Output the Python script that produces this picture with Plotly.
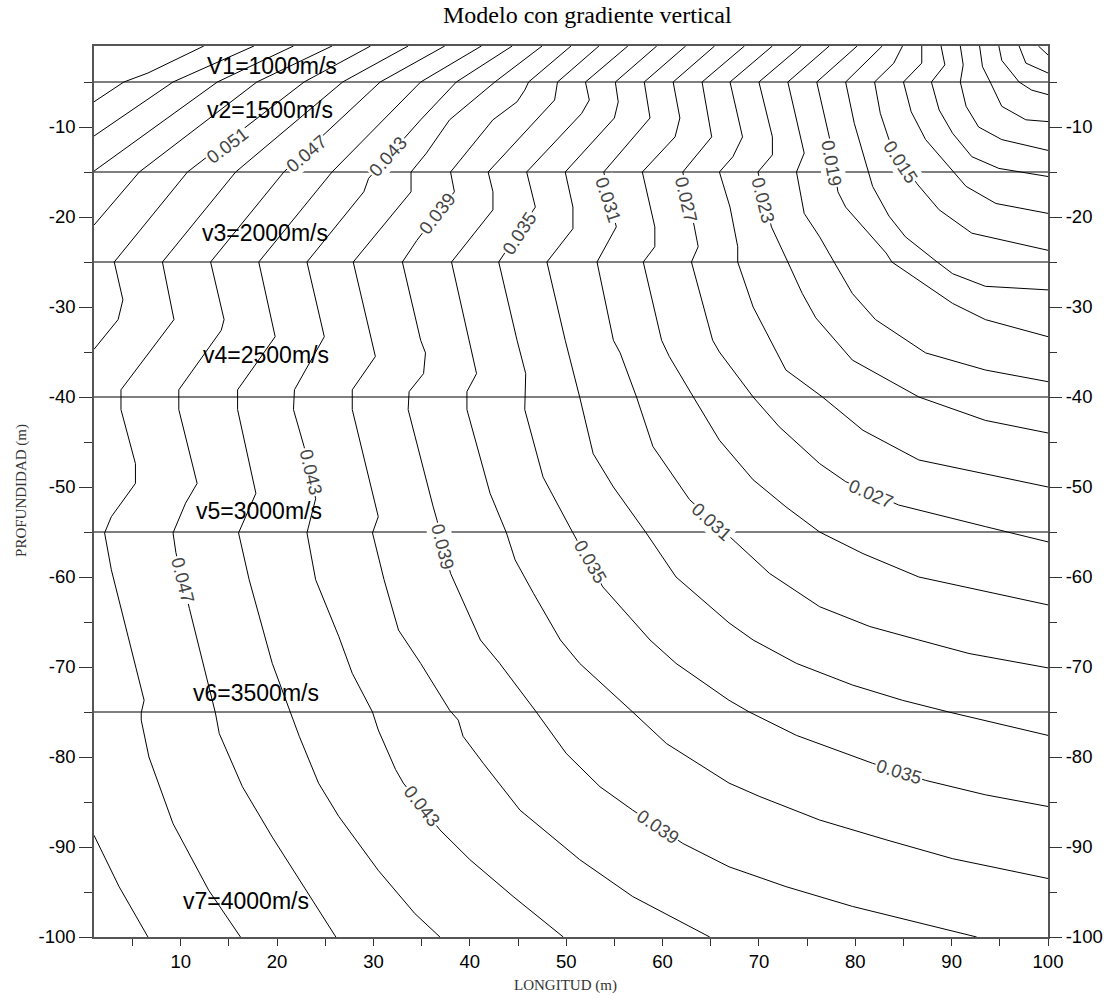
import plotly.graph_objects as go

# ---------------- data ----------------
X_RANGE = [1, 100]
Y_RANGE = [-100, -1]

X_TICKS = [10, 20, 30, 40, 50, 60, 70, 80, 90, 100]
X_TICK_LABELS = ["10", "20", "30", "40", "50", "60", "70", "80", "90", "100"]
X_MINOR_TICKS = [5, 15, 25, 35, 45, 55, 65, 75, 85, 95]
Y_TICKS = [-10, -20, -30, -40, -50, -60, -70, -80, -90, -100]
Y_TICK_LABELS = ["-10", "-20", "-30", "-40", "-50", "-60", "-70", "-80", "-90", "-100"]
Y_MINOR_TICKS = [-5, -15, -25, -35, -45, -55, -65, -75, -85, -95]

# layer interfaces (depth, m)
BOUNDARY_DEPTHS = [-5, -15, -25, -40, -55, -75]

# layer velocity captions
VELOCITY_LABELS = ["V1=1000m/s", "v2=1500m/s", "v3=2000m/s", "v4=2500m/s",
                   "v5=3000m/s", "v6=3500m/s", "v7=4000m/s"]
VELOCITY_LABEL_X = [19.5, 19.3, 18.7, 18.8, 18.1, 17.8, 16.8]
VELOCITY_LABEL_Y = [-3.2, -8.1, -21.8, -35.3, -52.7, -72.9, -96.0]

# travel-time isolines (s); each traced as (x, depth) vertices
CONTOUR_LEVELS = [0.001, 0.003, 0.005, 0.007, 0.009, 0.011, 0.013, 0.015,
                  0.017, 0.019, 0.021, 0.023, 0.025, 0.027, 0.029, 0.031,
                  0.033, 0.035, 0.037, 0.039, 0.041, 0.043, 0.045, 0.047,
                  0.049, 0.051, 0.051, 0.053, 0.055, 0.057, 0.059]

CONTOUR_X = [
    [99.0, 100],
    [97.0, 97.7, 100],
    [94.9, 95.2, 97.0, 98.3, 100],
    [92.9, 93.2, 94.0, 95.2, 97.7, 100],
    [90.9, 91.2, 90.9, 91.5, 92.8, 95.2, 100],
    [88.9, 89.3, 87.9, 88.7, 90.1, 92.1, 94.9, 100],
    [86.9, 86.9, 85.0, 85.8, 87.3, 89.7, 91.5, 94.6, 100],
    [84.9, 84.0, 82.0, 82.6, 83.5, 86.4, 88.7, 92.1, 100],
    [82.8, 79.0, 79.9, 81.1, 81.8, 83.5, 85.2, 88.5, 90.1, 93.5, 100],
    [80.2, 76.0, 77.3, 78.2, 79.0, 80.8, 83.2, 83.8, 86.6, 90.1, 93.5, 100],
    [77.3, 73.0, 74.7, 73.9, 74.7, 76.3, 77.8, 79.7, 82.1, 87.3, 93.5, 100],
    [74.4, 70.0, 71.4, 71.4, 69.9, 71.3, 73.0, 74.5, 75.9, 79.7, 86.6, 93.5, 100],
    [71.4, 67.0, 68.3, 67.3, 65.9, 67.0, 67.8, 67.8, 69.4, 72.8, 76.6, 80.8, 86.6, 100],
    [68.5, 64.1, 65.1, 62.1, 63.3, 63.7, 63.0, 65.2, 65.9, 69.4, 72.1, 76.3, 79.0,
     84.5, 93.5, 100],
    [65.4, 61.1, 61.8, 61.3, 57.9, 59.2, 59.2, 58.0, 59.9, 60.7, 63.2, 65.9, 69.4,
     72.8, 76.3, 80.8, 86.6, 100],
    [62.4, 58.1, 58.7, 53.9, 55.2, 53.2, 54.9, 55.6, 57.3, 59.0, 62.8, 67.3, 71.1,
     76.3, 81.5, 86.6, 91.8, 100],
    [59.4, 55.1, 55.4, 55.0, 49.9, 50.7, 50.7, 48.0, 49.9, 51.4, 52.8, 54.9, 58.3,
     61.4, 66.9, 69.4, 73.9, 79.7, 84.9, 89.7, 100],
    [56.4, 52.0, 52.4, 51.6, 45.9, 46.8, 43.0, 44.9, 45.8, 45.7, 47.6, 50.7, 53.8,
     58.7, 61.4, 66.9, 69.0, 73.9, 81.8, 87.3, 93.5, 100],
    [53.4, 49.1, 48.8, 41.9, 42.4, 42.4, 38.1, 39.9, 40.7, 39.7, 39.7, 42.1, 43.8,
     44.7, 46.6, 49.4, 51.4, 56.9, 60.4, 66.9, 70.1, 76.3, 83.2, 90.1, 100],
    [50.5, 46.1, 45.7, 44.9, 42.4, 40.4, 38.0, 38.4, 34.5, 33.0, 34.9, 35.4, 35.2,
     33.7, 33.6, 36.2, 36.6, 38.0, 41.1, 43.1, 46.9, 50.0, 53.5, 56.9, 62.1, 66.9,
     72.8, 79.7, 92.6],
    [47.5, 42.6, 37.9, 35.5, 33.9, 33.9, 27.9, 30.2, 27.8, 27.8, 30.5, 29.9, 31.1,
     32.6, 34.9, 37.9, 38.8, 39.3, 41.4, 45.2, 51.4, 56.9, 64.9],
    [44.4, 38.6, 34.9, 33.5, 29.5, 29.0, 23.1, 24.9, 21.8, 21.7, 22.8, 24.0, 23.1,
     24.0, 26.4, 27.8, 29.9, 30.5, 32.3, 33.1, 36.9, 40.0, 44.5, 49.7],
    [41.2, 34.9, 25.7, 18.1, 19.8, 15.9, 15.9, 17.8, 16.0, 17.1, 19.5, 21.4, 22.3,
     24.3, 26.4, 30.5, 34.3, 36.9],
    [37.4, 30.7, 20.7, 13.1, 14.5, 14.2, 9.8, 9.8, 11.7, 10.5, 9.2, 9.5, 10.9,
     13.6, 14.0, 16.4, 19.5, 23.0, 26.1],
    [33.6, 26.8, 15.7, 8.1, 9.3, 3.8, 3.8, 5.3, 5.3, 2.8, 2.1, 2.8, 6.2, 5.9, 5.9,
     6.7, 9.2, 12.9, 16.2],
    [29.7, 22.8, 10.7, 3.1, 4.0, 3.5, 1.0],
    [1.0, 3.6, 6.6],
    [25.7, 17.9, 5.7, 1.0],
    [21.7, 13.8, 1.0],
    [17.6, 9.2, 1.0],
    [12.4, 6.6, 4.1, 1.0],
]

CONTOUR_Y = [
    [-1, -2.0],
    [-1, -2.9, -4.0],
    [-1, -2.6, -5, -5.9, -6.4],
    [-1, -3.3, -5, -7.7, -9.2, -9.4],
    [-1, -3.1, -5, -7.7, -10.0, -11.4, -12.6],
    [-1, -3.1, -5, -8.1, -10.7, -13.3, -14.6, -15.5],
    [-1, -2.9, -5, -8.3, -11.4, -14.4, -16.6, -18.5, -19.6],
    [-1, -2.9, -5, -8.5, -11.4, -16.3, -19.2, -21.8, -23.7],
    [-1, -5, -9.6, -14.0, -16.6, -19.9, -22.2, -25, -26.3, -27.7, -28.1],
    [-1, -5, -11.1, -17.2, -18.9, -21.1, -24.0, -25, -27.0, -29.6, -31.4, -33.3],
    [-1, -5, -12.9, -15, -19.6, -22.2, -25, -28.5, -31.4, -35.1, -37.0, -38.3],
    [-1, -5, -11.1, -13.1, -15, -21.1, -25, -28.5, -31.2, -35.9, -40, -42.6, -44.0],
    [-1, -5, -11.1, -13.3, -15, -18.9, -23.3, -25, -30.0, -37.0, -40, -43.7, -47.0, -50.0],
    [-1, -5, -11.1, -15, -21.1, -23.3, -25, -33.7, -35.0, -40, -43.3, -47.4, -49.4,
     -52.0, -54.4, -56.1],
    [-1, -5, -9.0, -11.1, -15, -21.1, -23.3, -25, -33.7, -35.5, -40, -44.8, -49.2,
     -52.2, -55, -57.4, -60.0, -63.1],
    [-1, -5, -9.0, -15, -21.1, -25, -33.7, -35.1, -40, -45.5, -51.4, -55.9, -59.6,
     -63.3, -65.5, -67.0, -68.5, -70.1],
    [-1, -5, -7.2, -9.0, -15, -18.9, -21.3, -25, -33.7, -40, -46.3, -50.0, -55.1,
     -60.0, -65.1, -67.0, -69.6, -72.0, -73.7, -75, -77.6],
    [-1, -5, -7.0, -8.5, -15, -18.9, -25, -33.7, -37.4, -41.4, -48.9, -55.1, -61.1,
     -67.0, -69.6, -73.7, -75, -77.6, -80.7, -82.6, -84.2, -85.5],
    [-1, -5, -7.0, -15, -17.2, -19.2, -25, -33.7, -37.4, -39.4, -41.4, -50.7, -55.1,
     -58.1, -61.8, -67.0, -69.6, -75, -78.5, -82.9, -84.4, -87.0, -89.2, -91.3, -93.5],
    [-1, -5, -5.9, -7.2, -9.2, -11.8, -15, -17.2, -22.6, -25, -33.7, -35.1, -37.4,
     -39.4, -41.4, -52.2, -53.7, -59.6, -67.0, -69.6, -75, -79.6, -83.3, -85.9, -89.6,
     -92.2, -94.4, -96.6, -100],
    [-1, -5, -9.2, -12.9, -15, -17.2, -25, -35.5, -39.2, -41.4, -53.3, -55.1, -60.3,
     -65.9, -69.6, -74.8, -75.9, -77.7, -80.7, -85.9, -91.4, -95.5, -100],
    [-1, -5, -9.2, -10.9, -15.7, -17.2, -25, -33.3, -39.2, -41.4, -45.5, -51.3, -55.1,
     -60.3, -66.6, -70.7, -75, -77.0, -81.4, -82.9, -88.1, -91.4, -95.5, -100],
    [-1, -5, -15, -25, -33.3, -39.2, -41.4, -50.7, -55.1, -60.3, -69.6, -75.1, -77.7,
     -82.9, -86.6, -92.6, -97.4, -100],
    [-1, -5, -15, -25, -31.4, -32.6, -39.2, -41.4, -49.6, -51.8, -55.1, -57.3, -63.5,
     -75.1, -77.4, -83.3, -88.9, -94.8, -100],
    [-1, -5, -15, -25, -31.4, -39.2, -41.4, -47.4, -49.6, -53.3, -55.1, -59.2, -73.7,
     -75.1, -75.9, -80.0, -87.4, -94.8, -100],
    [-1, -5, -15, -25, -29.2, -31.4, -34.7],
    [-88.7, -94.4, -100],
    [-1, -5, -15, -20.9],
    [-1, -5, -14.9],
    [-1, -5, -11.0],
    [-1, -4.0, -5, -7.2],
]

# inline contour labels
LABEL_TEXT = ["0.051", "0.047", "0.043", "0.039", "0.035", "0.031", "0.027",
              "0.023", "0.019", "0.015", "0.043", "0.039", "0.035", "0.031",
              "0.027", "0.047", "0.043", "0.039", "0.035"]
LABEL_X = [14.8, 23.05, 31.5, 36.6, 45.1, 54.4, 62.5, 70.4, 77.6, 84.7,
           23.5, 37.2, 52.5, 65.1, 81.6, 10.2, 35.0, 59.5, 84.5]
LABEL_Y = [-12.0, -12.9, -13.3, -19.6, -21.8, -18.0, -18.0, -18.1, -14.0, -13.8,
           -48.3, -56.6, -58.3, -53.8, -50.7, -60.3, -85.4, -87.7, -81.6]
LABEL_ANGLE = [-37, -40, -48, -52, -57, 72, 77, 76, 80, 57,
               77, 76, 60, 42, 23, 76, 52, 34, 17]

TITLE = "Modelo con gradiente vertical"
X_TITLE = "LONGITUD (m)"
Y_TITLE = "PROFUNDIDAD (m)"

# ---------------- figure ----------------
SANS = "Liberation Sans, Arial, sans-serif"
SERIF = "Liberation Serif, Times New Roman, serif"

fig = go.Figure()

for xs, ys, lev in zip(CONTOUR_X, CONTOUR_Y, CONTOUR_LEVELS):
    fig.add_trace(go.Scatter(x=xs, y=ys, mode="lines", name=f"{lev:.3f}",
                             line=dict(color="black", width=1),
                             hoverinfo="skip", showlegend=False))

for d in BOUNDARY_DEPTHS:
    fig.add_trace(go.Scatter(x=X_RANGE, y=[d, d], mode="lines", yaxis="y2",
                             line=dict(color="black", width=1.2),
                             hoverinfo="skip", showlegend=False))

for t, x, y, a in zip(LABEL_TEXT, LABEL_X, LABEL_Y, LABEL_ANGLE):
    fig.add_annotation(x=x, y=y, xref="x", yref="y", text=t, textangle=a,
                       showarrow=False, bgcolor="white", borderpad=1,
                       xanchor="center", yanchor="middle",
                       font=dict(family=SANS, size=18.5, color="#444444"))

for t, x, y in zip(VELOCITY_LABELS, VELOCITY_LABEL_X, VELOCITY_LABEL_Y):
    fig.add_annotation(x=x, y=y, xref="x", yref="y", text=t, showarrow=False,
                       xanchor="center", yanchor="middle",
                       font=dict(family=SANS, size=23, color="black"))

fig.add_annotation(x=0.517, y=1.0348, xref="paper", yref="paper", text=TITLE,
                   showarrow=False, xanchor="center", yanchor="middle",
                   font=dict(family=SERIF, size=24, color="black"))
fig.add_annotation(x=0.494, y=-0.0539, xref="paper", yref="paper", text=X_TITLE,
                   showarrow=False, xanchor="center", yanchor="middle",
                   font=dict(family=SERIF, size=15, color="#333"))
fig.add_annotation(x=-0.0755, y=0.5017, xref="paper", yref="paper", text=Y_TITLE,
                   textangle=-90, showarrow=False, xanchor="center", yanchor="middle",
                   font=dict(family=SERIF, size=15, color="#333"))

tickfont = dict(family=SANS, size=18.5, color="black")
common = dict(showgrid=False, zeroline=False, ticks="outside", tickcolor="#333",
              tickwidth=1, tickfont=tickfont, automargin=False)

y_minor = dict(ticks="outside", ticklen=8, tickmode="array", tickvals=Y_MINOR_TICKS,
               tickcolor="#333", showgrid=False)

fig.update_layout(
    width=1107, height=1003,
    margin=dict(l=94, r=59, t=46, b=66, autoexpand=False),
    paper_bgcolor="white", plot_bgcolor="white",
    xaxis=dict(range=X_RANGE, tickmode="array", tickvals=X_TICKS,
               ticktext=X_TICK_LABELS, ticklen=7,
               showline=True, linecolor="#555", linewidth=1.5, mirror=True,
               minor=dict(ticks="outside", ticklen=7, tickmode="array",
                          tickvals=X_MINOR_TICKS, tickcolor="#333", showgrid=False),
               **common),
    yaxis=dict(range=Y_RANGE, tickmode="array", tickvals=Y_TICKS,
               ticktext=Y_TICK_LABELS, ticklen=13,
               showline=True, linecolor="#555", linewidth=1.5, mirror=True,
               minor=y_minor, **common),
    yaxis2=dict(range=Y_RANGE, overlaying="y", side="right", anchor="x",
                tickmode="array", tickvals=Y_TICKS, ticktext=Y_TICK_LABELS,
                ticklen=13, showline=False, minor=y_minor, **common),
)

fig.write_html("out.html")
